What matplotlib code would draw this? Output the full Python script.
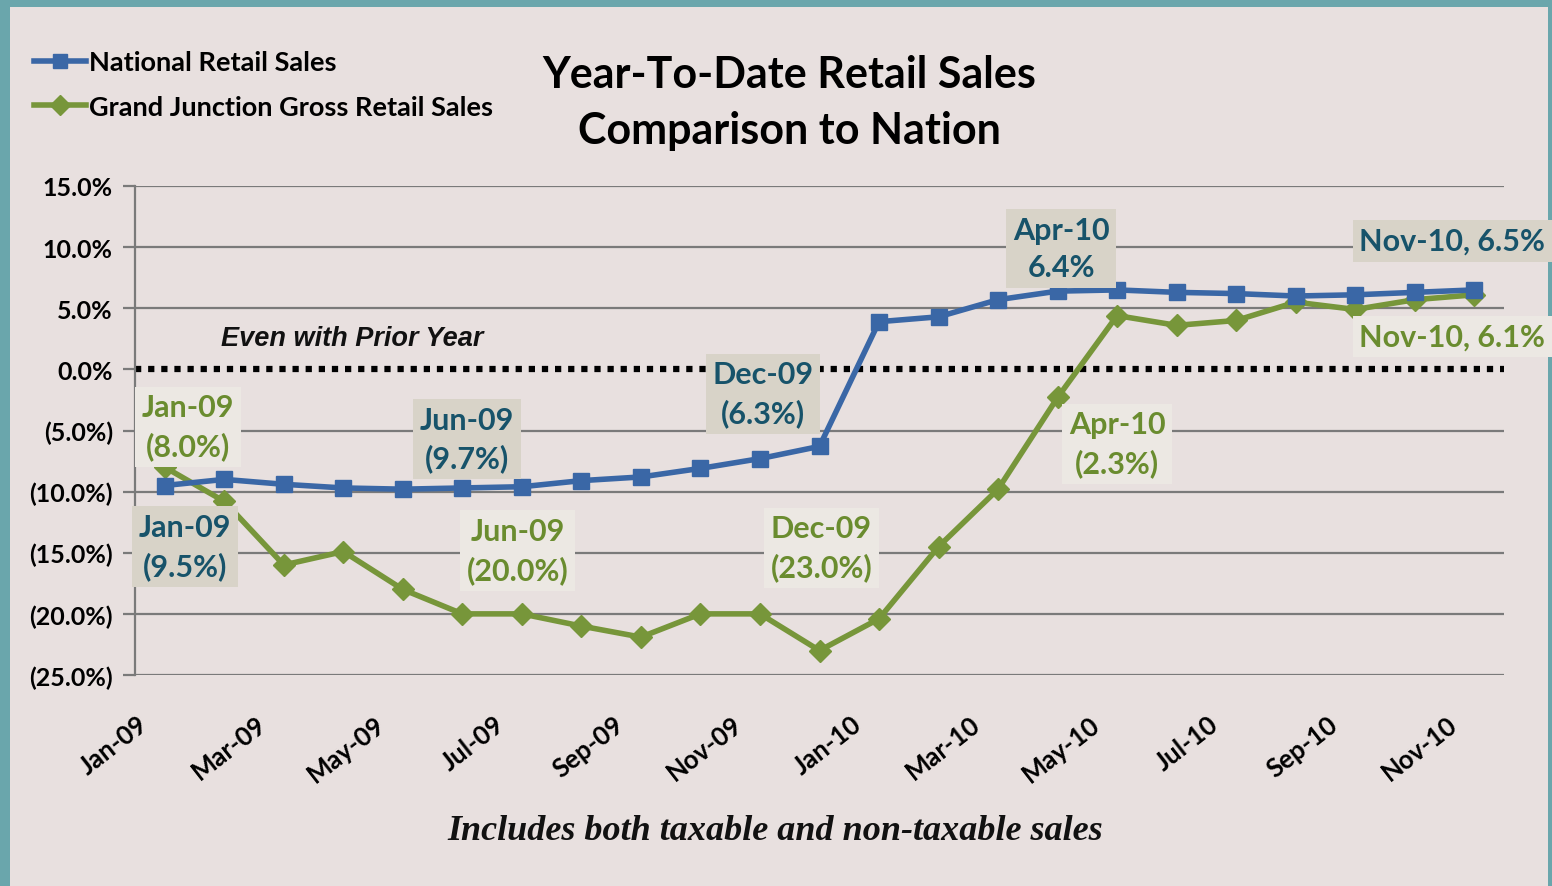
import matplotlib
matplotlib.use("Agg")
from matplotlib import pyplot as plt
from matplotlib.patches import Rectangle
from matplotlib.transforms import ScaledTranslation

months = ['Jan-09', 'Feb-09', 'Mar-09', 'Apr-09', 'May-09', 'Jun-09', 'Jul-09', 'Aug-09',
          'Sep-09', 'Oct-09', 'Nov-09', 'Dec-09', 'Jan-10', 'Feb-10', 'Mar-10', 'Apr-10',
          'May-10', 'Jun-10', 'Jul-10', 'Aug-10', 'Sep-10', 'Oct-10', 'Nov-10']
national = [-9.5, -9.0, -9.4, -9.7, -9.8, -9.7, -9.6, -9.1, -8.8, -8.1, -7.3, -6.3,
            3.9, 4.3, 5.7, 6.4, 6.5, 6.3, 6.2, 6.0, 6.1, 6.3, 6.5]
grand_junction = [-8.0, -10.8, -16.0, -14.9, -18.0, -20.0, -20.0, -21.0, -21.9, -20.0, -20.0, -23.0,
                  -20.4, -14.5, -9.8, -2.3, 4.4, 3.6, 4.0, 5.5, 4.9, 5.7, 6.1]
y_ticks = [15, 10, 5, 0, -5, -10, -15, -20, -25]
y_tick_labels = ['15.0%', '10.0%', '5.0%', '0.0%', '(5.0%)', '(10.0%)', '(15.0%)', '(20.0%)', '(25.0%)']

# data labels: (text, x, y, series)
labels = [
    ('Jan-09\n(8.0%)', 0.39, -4.7, 'gj'),
    ('Jan-09\n(9.5%)', 0.34, -14.5, 'nat'),
    ('Jun-09\n(9.7%)', 5.08, -5.7, 'nat'),
    ('Jun-09\n(20.0%)', 5.93, -14.8, 'gj'),
    ('Dec-09\n(6.3%)', 10.05, -2.0, 'nat'),
    ('Dec-09\n(23.0%)', 11.03, -14.6, 'gj'),
    ('Apr-10\n6.4%', 15.06, 9.9, 'nat'),
    ('Apr-10\n(2.3%)', 16.0, -6.1, 'gj'),
    ('Nov-10, 6.5%', 21.63, 10.5, 'nat'),
    ('Nov-10, 6.1%', 21.63, 2.7, 'gj'),
]

blue = '#3a67a6'
green = '#77963a'
blue_text = '#17536a'
green_text = '#6a8c2f'
bg = '#e8e0df'
font = 'Lato'

fig = plt.figure(figsize=(15.52, 8.87), dpi=100, facecolor='#6aa6ac')
fig.patches.append(Rectangle((10 / 1552, 0), (1548 - 10) / 1552, (887 - 8) / 887,
                             transform=fig.transFigure, facecolor=bg, edgecolor='none', zorder=-10))

ax = fig.add_axes([135 / 1552, 1 - 676 / 887, (1504 - 135) / 1552, 489 / 887])
ax.set_zorder(1)
ax.set_facecolor('none')
x = list(range(len(months)))

for yv in y_ticks:
    if yv != 0:
        ax.axhline(yv, color='#7a7a7a', lw=1.6, zorder=1)
ax.axhline(0, color='black', lw=4.5, linestyle=(0, (1, 1.1)), zorder=2)

ax.plot(x, national, color=blue, lw=4, marker='s', markersize=11, zorder=4,
        label='National Retail Sales')
ax.plot(x, grand_junction, color=green, lw=4, marker='D', markersize=11, zorder=3,
        label='Grand Junction Gross Retail Sales')

ax.set_xlim(-0.5, len(months) - 0.5)
ax.set_ylim(-25, 15)
ax.set_yticks(y_ticks)
ax.set_yticklabels(y_tick_labels, fontsize=18, fontweight='bold', family=font)
ax.set_xticks(x[::2])
ax.set_xticklabels(months[::2], rotation=38, ha='right', va='top', rotation_mode='anchor',
                   fontsize=18.5, fontweight='bold', family=font)
ax.tick_params(axis='x', length=0, pad=26)
ax.tick_params(axis='y', length=9, width=1.6, color='#7a7a7a', pad=7)
shift = ScaledTranslation(-0.28, 0, fig.dpi_scale_trans)
for lab in ax.get_xticklabels():
    lab.set_transform(lab.get_transform() + shift)
for s in ['top', 'right', 'bottom']:
    ax.spines[s].set_visible(False)
ax.spines['left'].set_color('#7a7a7a')
ax.spines['left'].set_linewidth(1.6)

for text, lx, ly, series in labels:
    tc = blue_text if series == 'nat' else green_text
    bc = '#d8d3c8' if series == 'nat' else '#ece8e3'
    ax.text(lx, ly, text, ha='center', va='center', fontsize=22, fontweight='bold',
            family=font, color=tc, linespacing=1.42, zorder=5,
            bbox=dict(boxstyle='square,pad=0.22', facecolor=bc, edgecolor='none'))

ax.text(3.15, 2.6, 'Even with Prior Year', ha='center', va='center', fontsize=19.5,
        fontweight='bold', style='italic', family='Liberation Sans', color='#111111')

fig.text(789 / 1552, 1 - 103 / 887, 'Year-To-Date Retail Sales\nComparison to Nation',
         ha='center', va='center', fontsize=31, fontweight='bold', family=font,
         linespacing=1.5, color='black')

fig.legend(loc='upper left', bbox_to_anchor=(10 / 1552, 1 - 27 / 887), frameon=False,
           prop={'family': font, 'weight': 'bold', 'size': 19.5}, handlelength=1.9,
           handletextpad=0.1, labelspacing=0.75, markerscale=0.9)

fig.text(775 / 1552, 1 - 832 / 887, 'Includes both taxable and non-taxable sales',
         ha='center', va='center', fontsize=26, fontweight='bold', style='italic',
         family='Liberation Serif', color='#111111')

fig.savefig('out.png', dpi=100, facecolor=fig.get_facecolor())
